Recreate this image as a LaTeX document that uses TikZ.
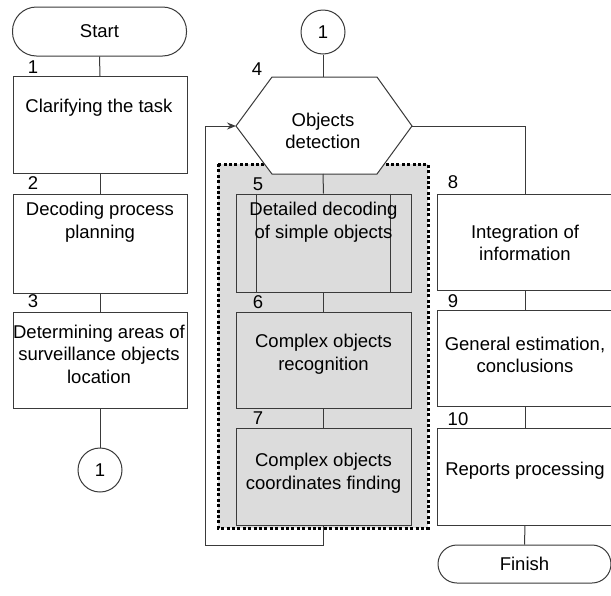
\documentclass[tikz,border=0pt]{standalone}
\usepackage{fontspec}
\setmainfont{Liberation Sans}
\usetikzlibrary{arrows.meta}
\definecolor{ln}{HTML}{3A3A3A}
\definecolor{gr}{HTML}{DCDCDC}
\begin{document}
\begin{tikzpicture}[x=1pt,y=-1pt,
  every node/.style={font=\fontsize{18.5pt}{22.5pt}\selectfont, inner sep=0pt},
  box/.style={draw=ln, line width=1pt, fill=white, rectangle, minimum width=175pt, minimum height=97pt},
  gbox/.style={box, fill=gr},
  term/.style={draw=ln, line width=1pt, fill=white, rectangle, rounded corners=19pt, minimum width=174pt},
  conn/.style={draw=ln, line width=1pt, circle, minimum size=44pt, fill=white},
  txt/.style={align=center},
  num/.style={anchor=center},
  wire/.style={draw=ln, line width=1pt}]
\useasboundingbox (0,0) rectangle (611,595);
% dotted group
\filldraw[fill=gr, draw=black, line width=3pt, dash pattern=on 3pt off 2.4pt] (218,164) rectangle (428,528);
% left column
\node[term, minimum height=49pt, rounded corners=24pt] (start) at (99.5,31.5) {Start};
\node[box, minimum width=174pt] (b1) at (100,125) {};
\node[txt] (t1) at (99,108) {Clarifying the task};
\node[box, minimum width=174pt, minimum height=99pt] (b2) at (100,243.5) {};
\node[txt] (t2) at (100,222) {Decoding process\\planning};
\node[box, minimum width=174pt, minimum height=96pt] (b3) at (100,360) {};
\node[txt] (t3) at (99,354) {Determining areas of\\surveillance objects\\location};
\node[conn] (c1) at (100,470) {1};
\node[num] (n1) at (33,67) {1};
\node[num] (n2) at (33,183) {2};
\node[num] (n3) at (33,301) {3};
\draw[wire] (start.south) -- (b1.north);
\draw[wire] (b1.south) -- (b2.north);
\draw[wire] (b2.south) -- (b3.north);
\draw[wire] (b3.south) -- (c1.north);
% middle column
\node[conn] (c2) at (323,32) {1};
\coordinate (hl) at (236,126);
\coordinate (htl) at (272,77);
\coordinate (htr) at (377,77);
\coordinate (hr) at (412,126);
\coordinate (hbr) at (377,174);
\coordinate (hbl) at (272,174);
\coordinate (htop) at (323,77);
\coordinate (hbot) at (323,174);
\filldraw[fill=white, draw=ln, line width=1pt] (hl) -- (htl) -- (htr) -- (hr) -- (hbr) -- (hbl) -- cycle;
\node[txt] (t4) at (323,131) {Objects\\detection};
\node[num] (n4) at (257,69) {4};
\node[gbox, minimum height=98pt] (b5) at (323.5,243) {};
\draw[wire] ([xshift=21pt]b5.north west) -- ([xshift=21pt]b5.south west);
\draw[wire] ([xshift=-21pt]b5.north east) -- ([xshift=-21pt]b5.south east);
\node[txt] (t5) at (323.5,222) {Detailed decoding\\of simple objects};
\node[gbox, minimum height=96pt] (b6) at (323.5,360) {};
\node[txt] (t6) at (323.5,354) {Complex objects\\recognition};
\node[gbox, minimum height=97pt] (b7) at (323.5,476.5) {};
\node[txt] (t7) at (323.5,473) {Complex objects\\coordinates finding};
\node[num] (n5) at (258,184) {5};
\node[num] (n6) at (258,302) {6};
\node[num] (n7) at (258,418) {7};
\draw[wire] (c2.south) -- (htop);
\draw[wire] (hbot) -- (b5.north);
\draw[wire] (b5.south) -- (b6.north);
\draw[wire] (b6.south) -- (b7.north);
\coordinate (lb) at (205,545);
\draw[wire, -{Stealth[length=9pt,width=7pt,inset=3pt]}] (b7.south) |- (lb) |- (hl);
% right column
\node[box, minimum width=176pt, minimum height=96pt] (b8) at (525,242) {};
\node[txt] (t8) at (525,243) {Integration of\\information};
\node[box, minimum width=176pt, minimum height=96pt] (b9) at (525,358) {};
\node[txt] (t9) at (525,355) {General estimation,\\conclusions};
\node[box, minimum width=176pt, minimum height=97pt] (b10) at (525,476.5) {};
\node[txt] (t10) at (525,471) {Reports processing};
\node[term, minimum height=38pt, minimum width=173pt] (fin) at (524.5,564) {Finish};
\node[num] (n8) at (453,182) {8};
\node[num] (n9) at (453,301) {9};
\node[num] (n10) at (458,419) {10};
\draw[wire] (hr) -| (b8.north);
\draw[wire] (b8.south) -- (b9.north);
\draw[wire] (b9.south) -- (b10.north);
\draw[wire] (b10.south) -- (fin.north);
\end{tikzpicture}
\end{document}
